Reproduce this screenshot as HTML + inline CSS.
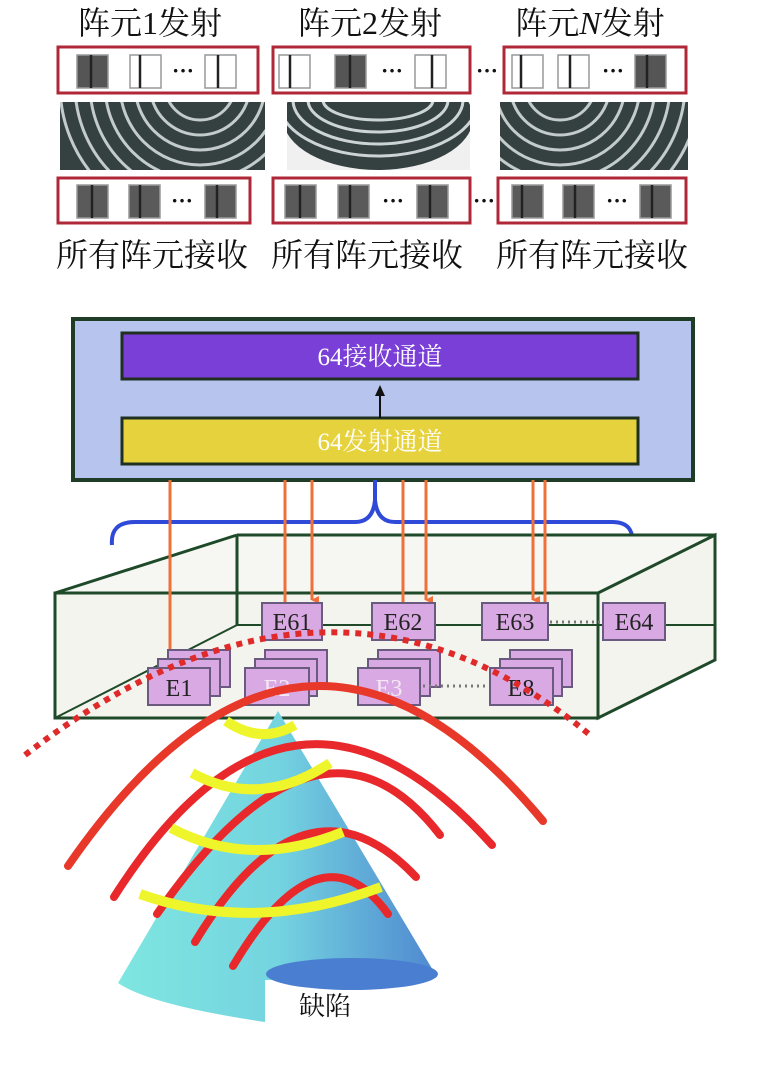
<!DOCTYPE html>
<html><head><meta charset="utf-8"><style>
html,body{margin:0;padding:0;background:#fff;}
svg{display:block;}
text{font-family:"Liberation Serif","Noto Serif CJK SC","Noto Sans CJK SC",serif;}
</style></head><body>
<svg width="757" height="1066" viewBox="0 0 757 1066" xmlns="http://www.w3.org/2000/svg">
<defs>
<marker id="oa" markerWidth="8" markerHeight="8" refX="4" refY="7" orient="auto" markerUnits="userSpaceOnUse" viewBox="0 0 8 8">
<path d="M0,0 L8,0 L4,8 Z" fill="#f0703a"/></marker>
<linearGradient id="cone" x1="0" x2="1" y1="0" y2="0">
<stop offset="0" stop-color="#7fe6e0"/><stop offset="0.5" stop-color="#74d4e0"/><stop offset="1" stop-color="#4f88d0"/></linearGradient>
<clipPath id="w1"><rect x="60" y="102" width="205" height="68"/></clipPath>
<clipPath id="w2"><rect x="287" y="102" width="183" height="68"/></clipPath>
<clipPath id="w3"><rect x="500" y="102" width="188" height="68"/></clipPath>
</defs>

<!-- top labels -->
<g font-size="32" fill="#111" text-anchor="middle">
<text x="150" y="34">阵元1发射</text>
<text x="370" y="34">阵元2发射</text>
<text x="590" y="34">阵元<tspan font-style="italic">N</tspan>发射</text>
<text x="152" y="266">所有阵元接收</text>
<text x="367" y="266">所有阵元接收</text>
<text x="592" y="266">所有阵元接收</text>
</g>

<!-- row boxes -->
<g fill="none" stroke="#b02838" stroke-width="3">
<rect x="58" y="47" width="200" height="46"/>
<rect x="273" y="47" width="197" height="46"/>
<rect x="504" y="47" width="182" height="46"/>
<rect x="58" y="178" width="192" height="45"/>
<rect x="273" y="178" width="197" height="45"/>
<rect x="498" y="178" width="188" height="45"/>
</g>
<g stroke="#999" stroke-width="1.5">
<rect x="77" y="55" width="31" height="33" fill="#555"/>
<rect x="130" y="55" width="31" height="33" fill="#fff"/>
<rect x="205" y="55" width="31" height="33" fill="#fff"/>
<rect x="279" y="55" width="31" height="33" fill="#fff"/>
<rect x="335" y="55" width="31" height="33" fill="#555"/>
<rect x="415" y="55" width="31" height="33" fill="#fff"/>
<rect x="512" y="55" width="31" height="33" fill="#fff"/>
<rect x="558" y="55" width="31" height="33" fill="#fff"/>
<rect x="635" y="55" width="31" height="33" fill="#555"/>
<rect x="77" y="185" width="31" height="33" fill="#5a5a5a"/>
<rect x="129" y="185" width="31" height="33" fill="#5a5a5a"/>
<rect x="205" y="185" width="31" height="33" fill="#5a5a5a"/>
<rect x="285" y="185" width="31" height="33" fill="#5a5a5a"/>
<rect x="338" y="185" width="31" height="33" fill="#5a5a5a"/>
<rect x="417" y="185" width="31" height="33" fill="#5a5a5a"/>
<rect x="512" y="185" width="31" height="33" fill="#5a5a5a"/>
<rect x="563" y="185" width="31" height="33" fill="#5a5a5a"/>
<rect x="640" y="185" width="31" height="33" fill="#5a5a5a"/>
</g>
<g stroke="#222" stroke-width="2.5">
<line x1="91" y1="55" x2="91" y2="88"/><line x1="140" y1="55" x2="140" y2="88"/><line x1="218" y1="55" x2="218" y2="88"/>
<line x1="290" y1="55" x2="290" y2="88"/><line x1="350" y1="55" x2="350" y2="88"/><line x1="432" y1="55" x2="432" y2="88"/>
<line x1="521" y1="55" x2="521" y2="88"/><line x1="570" y1="55" x2="570" y2="88"/><line x1="647" y1="55" x2="647" y2="88"/>
<line x1="92" y1="185" x2="92" y2="218"/><line x1="140" y1="185" x2="140" y2="218"/><line x1="217" y1="185" x2="217" y2="218"/>
<line x1="300" y1="185" x2="300" y2="218"/><line x1="350" y1="185" x2="350" y2="218"/><line x1="430" y1="185" x2="430" y2="218"/>
<line x1="522" y1="185" x2="522" y2="218"/><line x1="575" y1="185" x2="575" y2="218"/><line x1="652" y1="185" x2="652" y2="218"/>
</g>
<g font-size="22" font-weight="bold" fill="#111" text-anchor="middle" font-family="Liberation Sans, sans-serif">
<text x="183" y="78">···</text><text x="392" y="78">···</text><text x="487" y="78">···</text><text x="613" y="78">···</text>
<text x="182" y="208">···</text><text x="393" y="208">···</text><text x="484" y="208">···</text><text x="617" y="208">···</text>
</g>

<!-- wave images -->
<g clip-path="url(#w1)">
<rect x="60" y="102" width="205" height="68" fill="#354040"/>
<g fill="none" stroke="#e8eeee" stroke-width="3" opacity="0.8">
<circle cx="200" cy="85" r="35"/><circle cx="200" cy="85" r="50"/><circle cx="200" cy="85" r="65"/><circle cx="200" cy="85" r="80"/><circle cx="200" cy="85" r="95"/><circle cx="200" cy="85" r="110"/><circle cx="200" cy="85" r="125"/><circle cx="200" cy="85" r="140"/>
</g></g>
<g clip-path="url(#w2)">
<rect x="287" y="102" width="183" height="68" fill="#f0f0f0"/>
<ellipse cx="378" cy="118" rx="95" ry="52" fill="#354040"/>
<g fill="none" stroke="#e8eeee" stroke-width="3" opacity="0.85">
<ellipse cx="378" cy="100" rx="55" ry="20"/><ellipse cx="378" cy="100" rx="70" ry="32"/><ellipse cx="378" cy="100" rx="85" ry="44"/><ellipse cx="378" cy="100" rx="100" ry="56"/>
</g></g>
<g clip-path="url(#w3)">
<rect x="500" y="102" width="188" height="68" fill="#354040"/>
<g fill="none" stroke="#e8eeee" stroke-width="3" opacity="0.8">
<circle cx="560" cy="85" r="35"/><circle cx="560" cy="85" r="50"/><circle cx="560" cy="85" r="65"/><circle cx="560" cy="85" r="80"/><circle cx="560" cy="85" r="95"/><circle cx="560" cy="85" r="110"/><circle cx="560" cy="85" r="125"/><circle cx="560" cy="85" r="140"/>
</g></g>

<!-- control box -->
<rect x="73" y="319" width="620" height="161" fill="#b6c4ee" stroke="#1f3d26" stroke-width="4"/>
<rect x="122" y="333" width="516" height="46" fill="#7a3fd6" stroke="#1f3020" stroke-width="3"/>
<rect x="122" y="418" width="516" height="46" fill="#e6d23c" stroke="#1f3020" stroke-width="3"/>
<text x="380" y="365" font-size="25" fill="#fff" text-anchor="middle">64接收通道</text>
<text x="380" y="450" font-size="25" fill="#fff" text-anchor="middle">64发射通道</text>
<line x1="380" y1="418" x2="380" y2="394" stroke="#111" stroke-width="2"/>
<path d="M375,396 L380,385 L385,396 Z" fill="#111"/>

<!-- brace -->
<path d="M112,545 Q110,522 135,522 L355,522 Q373,522 375,500 L375,480 M375,500 Q377,522 395,522 L612,522 Q635,522 632,545" fill="none" stroke="#2f4ad8" stroke-width="4"/>

<!-- 3D box -->
<g fill="none" stroke="#1f4a2a" stroke-width="3">
<path d="M55,593 L237,535 L715,535 L598,593" fill="#f6f6f2" stroke="none"/>
<rect x="55" y="593" width="543" height="125" fill="#f4f4ef"/>
<path d="M598,593 L715,535 L715,660 L598,718 Z" fill="#f4f4ef"/>
<line x1="55" y1="593" x2="237" y2="535"/>
<line x1="237" y1="535" x2="715" y2="535"/>
<line x1="237" y1="535" x2="237" y2="625"/>
<line x1="237" y1="625" x2="715" y2="625" stroke-width="2"/>
<line x1="237" y1="625" x2="55" y2="718" stroke-width="2"/>
</g>

<!-- orange lines -->
<g stroke="#f0703a" stroke-width="3" fill="none">
<line x1="170" y1="480" x2="170" y2="668"/>
<line x1="285" y1="480" x2="285" y2="603"/>
<line x1="312" y1="480" x2="312" y2="600" marker-end="url(#oa)"/>
<line x1="403" y1="480" x2="403" y2="603"/>
<line x1="426" y1="480" x2="426" y2="600" marker-end="url(#oa)"/>
<line x1="533" y1="480" x2="533" y2="600" marker-end="url(#oa)"/>
<line x1="545" y1="480" x2="545" y2="603"/>
</g>

<!-- elements -->
<g stroke="#6a5a80" stroke-width="2" fill="#d9a9e3">
<rect x="262" y="603" width="60" height="37"/>
<rect x="372" y="603" width="63" height="37"/>
<rect x="482" y="603" width="66" height="37"/>
<rect x="603" y="603" width="62" height="37"/>
<rect x="168" y="650" width="62" height="37"/><rect x="158" y="659" width="62" height="37"/>
<rect x="265" y="650" width="62" height="37"/><rect x="255" y="659" width="62" height="37"/>
<rect x="378" y="650" width="62" height="37"/><rect x="368" y="659" width="62" height="37"/>
<rect x="510" y="650" width="62" height="37"/><rect x="500" y="659" width="62" height="37"/>
<rect x="148" y="668" width="62" height="37"/>
<rect x="245" y="668" width="64" height="37"/>
<rect x="358" y="668" width="62" height="37"/>
<rect x="490" y="668" width="63" height="37"/>
</g>
<g stroke="#777" stroke-width="3" stroke-dasharray="2,4">
<line x1="550" y1="622" x2="602" y2="622"/>
<line x1="423" y1="686" x2="488" y2="686"/>
</g>
<g font-size="24" fill="#222" text-anchor="middle">
<text x="292" y="630">E61</text><text x="403" y="630">E62</text><text x="515" y="630">E63</text><text x="634" y="630">E64</text>
<text x="179" y="696">E1</text><text x="277" y="696" fill="#f4e8f4">E2</text><text x="389" y="696" fill="#f4e8f4">E3</text><text x="521" y="696">E8</text>
</g>

<!-- red dotted arc -->
<path d="M25,755 Q330,520 590,735" fill="none" stroke="#e02a2a" stroke-width="6" stroke-dasharray="6,6"/>

<!-- cone -->
<path d="M278,711 L437,977 L265,980 L265,1022 Q150,1005 118,983 Z" fill="url(#cone)"/>
<ellipse cx="352" cy="974" rx="86" ry="16" fill="#4a7ed0"/>
<text x="325" y="1015" font-size="26" fill="#111" text-anchor="middle">缺陷</text>

<!-- red arcs -->
<g fill="none" stroke="#e8282a" stroke-width="8" stroke-linecap="round">
<path d="M68,866 Q300,530 543,821" stroke="#e8382a"/>
<path d="M114,897 Q290,620 492,845"/>
<path d="M157,914 Q320,680 440,835"/>
<path d="M195,942 Q305,760 416,877"/>
<path d="M233,966 Q320,820 388,914"/>
</g>
<!-- yellow arcs -->
<g fill="none" stroke="#eef52a" stroke-width="10" stroke-linecap="butt">
<path d="M226,721 Q261,745 295,725"/>
<path d="M192,773 Q260,810 330,763"/>
<path d="M171,828 Q250,870 343,832"/>
<path d="M140,894 Q255,935 381,887"/>
</g>
</svg>
</body></html>
